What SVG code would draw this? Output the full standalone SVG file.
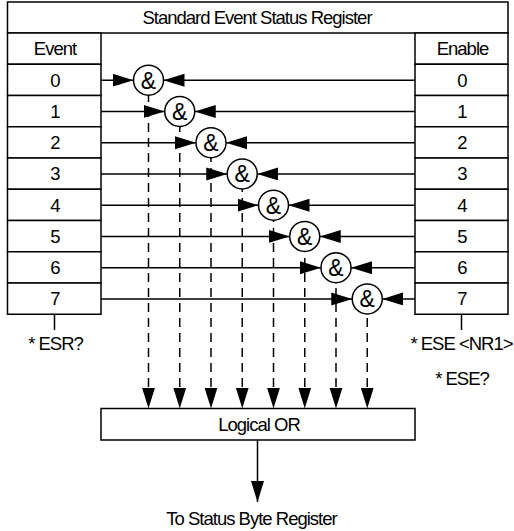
<svg xmlns="http://www.w3.org/2000/svg" width="514" height="531" viewBox="0 0 514 531">
<style>
.box{fill:#fff;stroke:#000;stroke-width:1.5}
.gate{fill:#fff;stroke:#000;stroke-width:1.5}
.t{font-family:"Liberation Sans",Arial,sans-serif;font-size:18.5px;letter-spacing:-1px;fill:#000;text-anchor:middle}
.amp{font-family:"Liberation Sans",Arial,sans-serif;font-size:23px;fill:#000;text-anchor:middle}
.ln{stroke:#000;stroke-width:1.5;fill:none}
.dash{stroke:#000;stroke-width:1.5;fill:none;stroke-dasharray:9 6}
</style>
<defs>
<marker id="ah" markerUnits="userSpaceOnUse" markerWidth="22" markerHeight="14" refX="21" refY="6.5" orient="auto" viewBox="0 0 22 14">
<path d="M0,0 L21,6.5 L0,13 Z" fill="#000"/>
</marker>
</defs>
<rect width="514" height="531" fill="#fff"/>
<g id="title">
<rect class="box" x="7.5" y="2" width="500.5" height="31"/>
<text class="t" x="257" y="24.3">Standard Event Status Register</text>
</g>
<g id="event-register">
<rect class="box" x="7.5" y="33" width="93.5" height="31.25"/>
<text class="t" x="55" y="55.4">Event</text>
<rect class="box" x="7.5" y="64.25" width="93.5" height="31.25"/><text class="t" x="55" y="86.7">0</text>
<rect class="box" x="7.5" y="95.5" width="93.5" height="31.25"/><text class="t" x="55" y="117.9">1</text>
<rect class="box" x="7.5" y="126.75" width="93.5" height="31.25"/><text class="t" x="55" y="149.2">2</text>
<rect class="box" x="7.5" y="158" width="93.5" height="31.25"/><text class="t" x="55" y="180.4">3</text>
<rect class="box" x="7.5" y="189.25" width="93.5" height="31.25"/><text class="t" x="55" y="211.7">4</text>
<rect class="box" x="7.5" y="220.5" width="93.5" height="31.25"/><text class="t" x="55" y="242.9">5</text>
<rect class="box" x="7.5" y="251.75" width="93.5" height="31.25"/><text class="t" x="55" y="274.2">6</text>
<rect class="box" x="7.5" y="283" width="93.5" height="31.25"/><text class="t" x="55" y="305.4">7</text>
</g>
<g id="enable-register">
<rect class="box" x="415" y="33" width="93" height="31.25"/>
<text class="t" x="462.5" y="55.4">Enable</text>
<rect class="box" x="415" y="64.25" width="93" height="31.25"/><text class="t" x="462" y="86.7">0</text>
<rect class="box" x="415" y="95.5" width="93" height="31.25"/><text class="t" x="462" y="117.9">1</text>
<rect class="box" x="415" y="126.75" width="93" height="31.25"/><text class="t" x="462" y="149.2">2</text>
<rect class="box" x="415" y="158" width="93" height="31.25"/><text class="t" x="462" y="180.4">3</text>
<rect class="box" x="415" y="189.25" width="93" height="31.25"/><text class="t" x="462" y="211.7">4</text>
<rect class="box" x="415" y="220.5" width="93" height="31.25"/><text class="t" x="462" y="242.9">5</text>
<rect class="box" x="415" y="251.75" width="93" height="31.25"/><text class="t" x="462" y="274.2">6</text>
<rect class="box" x="415" y="283" width="93" height="31.25"/><text class="t" x="462" y="305.4">7</text>
</g>
<g id="connectors">
<line class="ln" x1="101" y1="80.2" x2="133.5" y2="80.2" marker-end="url(#ah)"/>
<line class="ln" x1="415" y1="80.2" x2="163.5" y2="80.2" marker-end="url(#ah)"/>
<line class="ln" x1="101" y1="111.45" x2="164.75" y2="111.45" marker-end="url(#ah)"/>
<line class="ln" x1="415" y1="111.45" x2="194.75" y2="111.45" marker-end="url(#ah)"/>
<line class="ln" x1="101" y1="142.7" x2="196" y2="142.7" marker-end="url(#ah)"/>
<line class="ln" x1="415" y1="142.7" x2="226" y2="142.7" marker-end="url(#ah)"/>
<line class="ln" x1="101" y1="173.95" x2="227.25" y2="173.95" marker-end="url(#ah)"/>
<line class="ln" x1="415" y1="173.95" x2="257.25" y2="173.95" marker-end="url(#ah)"/>
<line class="ln" x1="101" y1="205.2" x2="258.5" y2="205.2" marker-end="url(#ah)"/>
<line class="ln" x1="415" y1="205.2" x2="288.5" y2="205.2" marker-end="url(#ah)"/>
<line class="ln" x1="101" y1="236.45" x2="289.75" y2="236.45" marker-end="url(#ah)"/>
<line class="ln" x1="415" y1="236.45" x2="319.75" y2="236.45" marker-end="url(#ah)"/>
<line class="ln" x1="101" y1="267.7" x2="321" y2="267.7" marker-end="url(#ah)"/>
<line class="ln" x1="415" y1="267.7" x2="351" y2="267.7" marker-end="url(#ah)"/>
<line class="ln" x1="101" y1="298.95" x2="352.25" y2="298.95" marker-end="url(#ah)"/>
<line class="ln" x1="415" y1="298.95" x2="382.25" y2="298.95" marker-end="url(#ah)"/>
<line class="dash" x1="148.5" y1="95.2" x2="148.5" y2="408.5" stroke-dashoffset="2.2" marker-end="url(#ah)"/>
<line class="dash" x1="179.75" y1="126.45" x2="179.75" y2="408.5" stroke-dashoffset="3.45" marker-end="url(#ah)"/>
<line class="dash" x1="211" y1="157.7" x2="211" y2="408.5" stroke-dashoffset="4.7" marker-end="url(#ah)"/>
<line class="dash" x1="242.25" y1="188.95" x2="242.25" y2="408.5" stroke-dashoffset="5.95" marker-end="url(#ah)"/>
<line class="dash" x1="273.5" y1="220.2" x2="273.5" y2="408.5" stroke-dashoffset="7.2" marker-end="url(#ah)"/>
<line class="dash" x1="304.75" y1="251.45" x2="304.75" y2="408.5" stroke-dashoffset="8.45" marker-end="url(#ah)"/>
<line class="dash" x1="336" y1="282.7" x2="336" y2="408.5" stroke-dashoffset="9.7" marker-end="url(#ah)"/>
<line class="dash" x1="367.25" y1="313.95" x2="367.25" y2="408.5" stroke-dashoffset="10.95" marker-end="url(#ah)"/>
<line class="ln" x1="257.5" y1="440" x2="257.5" y2="502" marker-end="url(#ah)"/>
<line class="ln" x1="54.5" y1="314.25" x2="54.5" y2="330"/>
<line class="ln" x1="461.5" y1="314.25" x2="461.5" y2="330"/>
</g>
<g id="and-gates">
<g id="and0"><circle class="gate" cx="148.5" cy="80.2" r="15"/><text class="amp" x="148.5" y="88.5">&amp;</text></g>
<g id="and1"><circle class="gate" cx="179.75" cy="111.45" r="15"/><text class="amp" x="179.75" y="119.75">&amp;</text></g>
<g id="and2"><circle class="gate" cx="211" cy="142.7" r="15"/><text class="amp" x="211" y="151">&amp;</text></g>
<g id="and3"><circle class="gate" cx="242.25" cy="173.95" r="15"/><text class="amp" x="242.25" y="182.25">&amp;</text></g>
<g id="and4"><circle class="gate" cx="273.5" cy="205.2" r="15"/><text class="amp" x="273.5" y="213.5">&amp;</text></g>
<g id="and5"><circle class="gate" cx="304.75" cy="236.45" r="15"/><text class="amp" x="304.75" y="244.75">&amp;</text></g>
<g id="and6"><circle class="gate" cx="336" cy="267.7" r="15"/><text class="amp" x="336" y="276">&amp;</text></g>
<g id="and7"><circle class="gate" cx="367.25" cy="298.95" r="15"/><text class="amp" x="367.25" y="307.25">&amp;</text></g>
</g>
<g id="logical-or">
<rect class="box" x="101" y="408.5" width="314" height="31.5"/>
<text class="t" x="259" y="431">Logical OR</text>
</g>
<g id="labels">
<text class="t" x="55.5" y="349.5">* ESR?</text>
<text class="t" x="461.5" y="349.5">* ESE &lt;NR1&gt;</text>
<text class="t" x="462" y="385">* ESE?</text>
<text class="t" x="251.5" y="524.5">To Status Byte Register</text>
</g>
</svg>
